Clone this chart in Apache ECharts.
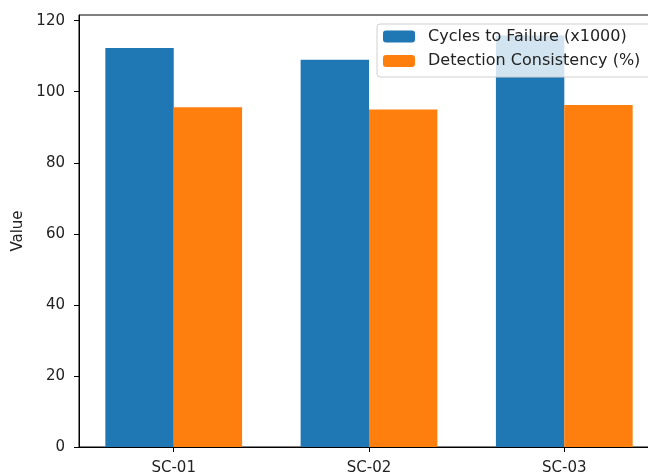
<!DOCTYPE html>
<html>
<head>
<meta charset="utf-8">
<script src="https://cdn.jsdelivr.net/npm/echarts@6/dist/echarts.min.js"></script>
<style>
html, body { margin: 0; padding: 0; background: #fff; }
#mychart { width: 648px; height: 475px; }
</style>
</head>
<body>
<div id="mychart"></div>
<script>
var categories = ['SC-01', 'SC-02', 'SC-03'];
var cycles = [112.3, 109.0, 115.8];
var consistency = [95.6, 95.0, 96.3];
var yTicks = [0, 20, 40, 60, 80, 100, 120];

var barW = 0.35; // bar width in category units
var blueData = [];
var orangeData = [];
for (var i = 0; i < categories.length; i++) {
    blueData.push([i - barW / 2, cycles[i]]);
    orangeData.push([i + barW / 2, consistency[i]]);
}

var font = 'DejaVu Sans';
var myChart = echarts.init(document.getElementById('mychart'));
myChart.setOption({
    animation: false,
    color: ['#1f77b4', '#ff7f0e'],
    grid: {
        left: 79,
        width: 580,
        top: 15,
        bottom: 28,
        outerBoundsMode: 'none',
        containLabel: false,
        show: true,
        borderColor: '#000',
        borderWidth: 1
    },
    legend: {
        orient: 'vertical',
        left: 377,
        top: 24,
        padding: [4.5, 20, 8, 6],
        itemWidth: 32,
        itemHeight: 12,
        itemGap: 8.5,
        backgroundColor: 'rgba(255,255,255,0.8)',
        borderColor: '#d0d0d0',
        borderWidth: 1,
        borderRadius: 3,
        textStyle: { fontFamily: font, fontSize: 16, color: '#222', lineHeight: 16, padding: [0, 0, 0, 8] },
        data: ['Cycles to Failure (x1000)', 'Detection Consistency (%)']
    },
    xAxis: {
        type: 'value',
        min: -0.485,
        max: 2.485,
        splitLine: { show: false },
        axisLine: { show: true, onZero: false, lineStyle: { color: '#000', width: 1 } },
        axisTick: { show: true, length: 5, customValues: [0, 1, 2], lineStyle: { color: '#000' } },
        axisLabel: {
            customValues: [0, 1, 2],
            margin: 14,
            fontFamily: font,
            fontSize: 15,
            color: '#222',
            formatter: function (v) { return categories[Math.round(v)]; }
        }
    },
    yAxis: {
        type: 'value',
        min: 0,
        max: 121.6,
        name: 'Value',
        nameLocation: 'middle',
        nameGap: 53,
        nameTextStyle: { fontFamily: font, fontSize: 15, color: '#222' },
        splitLine: { show: false },
        axisLine: { show: true, onZero: false, lineStyle: { color: '#000', width: 1 } },
        axisTick: { show: true, length: 5, customValues: yTicks, lineStyle: { color: '#000' } },
        axisLabel: {
            customValues: yTicks,
            margin: 14,
            fontFamily: font,
            fontSize: 15,
            color: '#222'
        }
    },
    series: [
        {
            name: 'Cycles to Failure (x1000)',
            type: 'bar',
            barWidth: 68.4,
            barGap: '-100%',
            data: blueData
        },
        {
            name: 'Detection Consistency (%)',
            type: 'bar',
            barWidth: 68.4,
            barGap: '-100%',
            data: orangeData
        }
    ]
});
</script>
</body>
</html>
